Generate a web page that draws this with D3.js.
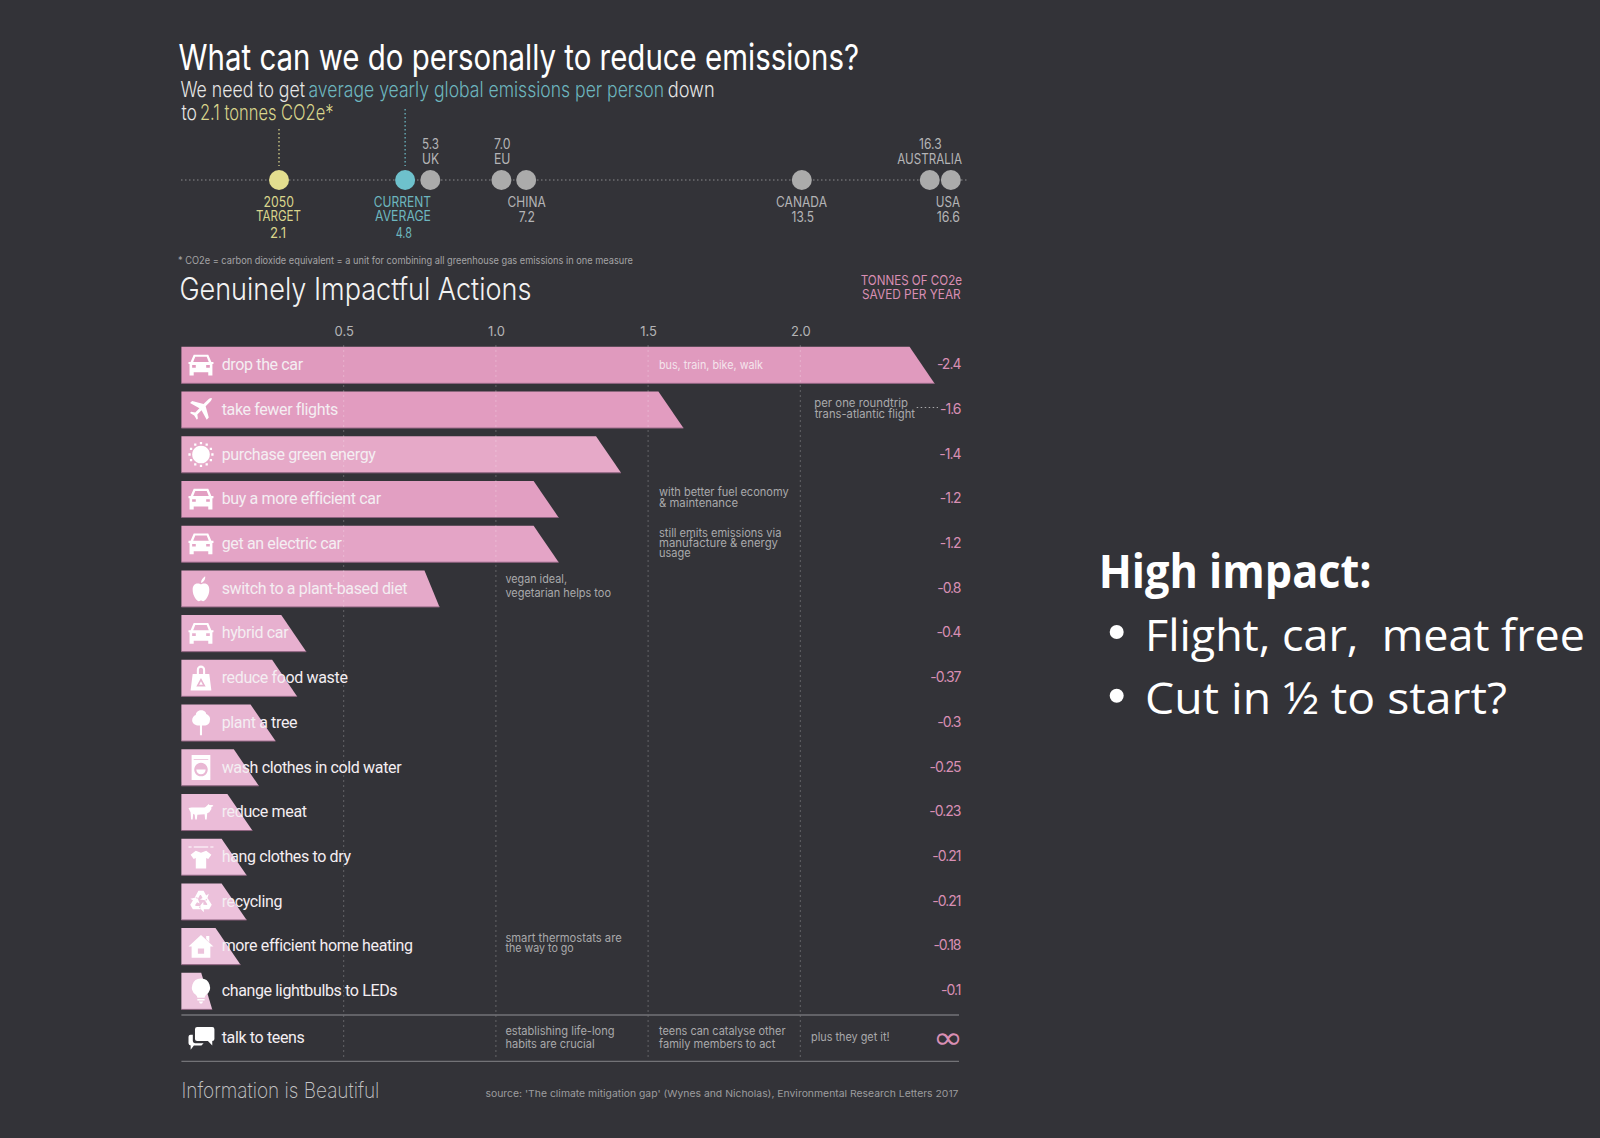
<!DOCTYPE html>
<html>
<head>
<meta charset="utf-8">
<title>What can we do personally to reduce emissions?</title>
<script src="https://cdn.jsdelivr.net/npm/d3@7"></script>
<style>
  html, body { margin: 0; background: #333338; }
  svg { display: block; }
  text { white-space: pre; }
</style>
</head>
<body>
<div id="chart"></div>
<script>
// Top strip: tonnes CO2e per person
const dotNames = ["2050 TARGET", "CURRENT AVERAGE", "UK", "EU", "CHINA", "CANADA", "AUSTRALIA", "USA"];
const dotValues = [2.1, 4.8, 5.3, 7.0, 7.2, 13.5, 16.3, 16.6];
// where the dot sits on the strip, the designer nudged some so they don't overlap
const dotPlaced = [2.1, 4.85, 5.4, 6.95, 7.49, 13.5, 16.29, 16.75];
const dotColors = ["#e3de8f", "#6ec1cc", "#ababab", "#ababab", "#ababab", "#ababab", "#ababab", "#ababab"];

// Actions
const actions = [
  "drop the car", "take fewer flights", "purchase green energy", "buy a more efficient car",
  "get an electric car", "switch to a plant-based diet", "hybrid car", "reduce food waste",
  "plant a tree", "wash clothes in cold water", "reduce meat", "hang clothes to dry",
  "recycling", "more efficient home heating", "change lightbulbs to LEDs",
];
const savedLabels = ["-2.4", "-1.6", "-1.4", "-1.2", "-1.2", "-0.8", "-0.4", "-0.37", "-0.3", "-0.25", "-0.23", "-0.21", "-0.21", "-0.18", "-0.1"];
// bar length as drawn against the axis (small bars are longer than their label says)
const barDrawn = [2.4, 1.575, 1.37, 1.165, 1.165, 0.79, 0.336, 0.306, 0.235, 0.18, 0.159, 0.14, 0.14, 0.12, 0.05];
const barColors = ["#e09abe", "#e29cc0", "#e6a9c8", "#e29fc2", "#e4a4c6", "#e5a9c9", "#e7b0cf", "#e8b3d0", "#e8b5d2", "#e9b8d4", "#ebbcd8", "#ecbfda", "#ecc1db", "#ecc3dc", "#edc6de"];
const axisTicks = [0.5, 1.0, 1.5, 2.0];
const iconNames = ["car", "plane", "sun", "car", "car", "apple", "car", "bag", "tree", "washer", "cow", "shirt", "recycle", "house", "bulb"];

const svg = d3.select("#chart").append("svg").attr("width", 1600).attr("height", 1138);

const pale = "#b4b4b6", note = "#a9a9ab", pink = "#d98fb4", yellow = "#d9d58c", teal = "#6db6bf";

// text helper, x2 squeezes the text to the width it has in the picture
function put(text, x, y, o = {}) {
  const t = svg.append("text").attr("x", x).attr("y", y).text(text)
    .attr("font-family", o.font || "Inter")
    .attr("font-size", o.size || 14)
    .attr("font-weight", o.weight || 400)
    .attr("fill", o.fill || pale);
  if (o.x2) t.attr("textLength", o.x2 - x).attr("lengthAdjust", "spacingAndGlyphs");
  if (o.spacing) t.attr("letter-spacing", o.spacing);
  if (o.anchor) t.attr("text-anchor", o.anchor);
  return t;
}

// Header
put("What can we do personally to reduce emissions?", 178.6, 69.5, { size: 36, weight: 400, fill: "#fff", x2: 859 });
put("We need to get", 180.4, 97, { size: 22, fill: "#e6e6e6", weight: 300, x2: 305 });
put("average yearly global emissions per person", 308.5, 97, { size: 22, fill: teal, weight: 300, x2: 664 });
put("down", 667.7, 97, { size: 22, fill: "#e6e6e6", weight: 300, x2: 714.6 });
put("to", 181.5, 120, { size: 22, fill: "#e6e6e6", weight: 300, x2: 197 });
put("2.1 tonnes CO2e*", 200, 120, { size: 22, fill: yellow, weight: 300, x2: 333.5 });

// Dot strip
const xDot = d3.scaleLinear().domain([2.1, 13.5]).range([279, 801.8]);
svg.append("line").attr("x1", 181).attr("x2", 967).attr("y1", 180).attr("y2", 180)
  .attr("stroke", "#8a8a8c").attr("stroke-width", 1.2).attr("stroke-dasharray", "1.5 2.5");
svg.selectAll(".leader").data([0, 1]).join("line").attr("class", "leader")
  .attr("x1", (i) => xDot(dotPlaced[i])).attr("x2", (i) => xDot(dotPlaced[i]))
  .attr("y1", (i) => (i === 0 ? 129 : 109)).attr("y2", 166)
  .attr("stroke", (i) => dotColors[i]).attr("stroke-width", 1.2).attr("stroke-dasharray", "1.5 2.5");
svg.selectAll(".dot").data(dotValues).join("circle").attr("class", "dot")
  .attr("cx", (d, i) => xDot(dotPlaced[i])).attr("cy", 180).attr("r", 10)
  .attr("fill", (d, i) => dotColors[i]);

const f1 = d3.format(".1f");
const up = { size: 14, weight: 400 };
put("2050", 263.6, 206.7, { ...up, fill: yellow, x2: 294 });
put("TARGET", 256, 220.7, { ...up, fill: yellow, x2: 301 });
put(dotValues[0], 270, 238.3, { ...up, fill: yellow, x2: 286 });
put("CURRENT", 373.8, 206.7, { ...up, fill: teal, x2: 431 });
put("AVERAGE", 375, 220.7, { ...up, fill: teal, x2: 431 });
put(dotValues[1], 395.7, 238.3, { ...up, fill: teal, x2: 412 });
put(dotValues[2], 422, 149.3, { ...up, x2: 439 });
put(dotNames[2], 422, 163.7, { ...up, x2: 439 });
put(f1(dotValues[3]), 494, 149.3, { ...up, x2: 510.5 });
put(dotNames[3], 494, 163.7, { ...up, x2: 510.5 });
put(dotNames[4], 507.5, 206.7, { ...up, x2: 545.7 });
put(dotValues[4], 518.7, 221.7, { ...up, x2: 535 });
put(dotNames[5], 776, 206.7, { ...up, x2: 827 });
put(dotValues[5], 791.6, 221.7, { ...up, x2: 814 });
put(dotValues[6], 919, 149.3, { ...up, x2: 941.6 });
put(dotNames[6], 897.3, 163.7, { ...up, x2: 962 });
put(dotNames[7], 935.7, 206.7, { ...up, x2: 960 });
put(dotValues[7], 936.7, 221.7, { ...up, x2: 960 });

put("* CO2e = carbon dioxide equivalent = a unit for combining all greenhouse gas emissions in one measure", 178, 264, { size: 10, fill: "#a4a4a6", x2: 633 });
put("Genuinely Impactful Actions", 179.4, 299.5, { size: 31, fill: "#f2f2f2", weight: 300, x2: 531.4 });
put("TONNES OF CO2e", 860.7, 284.7, { size: 13.5, fill: pink, x2: 962 });
put("SAVED PER YEAR", 862, 299.3, { size: 13.5, fill: pink, x2: 960.7 });

// Bars
const left = 181.4;
const x = d3.scaleLinear().domain([0, 2.5]).range([191.5, 952.5]);
const y = d3.scaleBand().domain(actions).range([346.8, 1009.4]).paddingInner(0.182).paddingOuter(0);

// value sits mid way along the slanted end, a couple of bars have a steeper end
const steeper = { "switch to a plant-based diet": 7.5, "change lightbulbs to LEDs": 5.5 };
const slant = (a) => steeper[a] || 12.5;
const barPath = (a, i) => {
  const v = barDrawn[i], t = y(a), b = t + y.bandwidth();
  return d3.line()([[left, t], [x(v) - slant(a), t], [x(v) + slant(a), b], [left, b]]) + "Z";
};

svg.selectAll(".bar").data(actions).join("path").attr("class", "bar")
  .attr("d", barPath).attr("fill", (a, i) => barColors[i]);
svg.selectAll(".barEdge").data(actions).join("line").attr("class", "barEdge")
  .attr("x1", left).attr("x2", (a, i) => x(barDrawn[i]) + slant(a))
  .attr("y1", (a) => y(a) + y.bandwidth()).attr("y2", (a) => y(a) + y.bandwidth())
  .attr("stroke", "#8f6480").attr("stroke-width", 1);

// Axis
const axis = svg.append("g").attr("transform", "translate(0,341)")
  .call(d3.axisTop(x).tickValues(axisTicks).tickFormat(f1).tickSize(0).tickPadding(5));
axis.select(".domain").remove();
axis.selectAll("text").attr("font-family", "Inter").attr("font-size", 13).attr("fill", pale);

svg.selectAll(".grid").data(axisTicks).join("line").attr("class", "grid")
  .attr("x1", (d) => x(d)).attr("x2", (d) => x(d)).attr("y1", 345).attr("y2", 1059)
  .attr("stroke", "#fff").attr("stroke-opacity", 0.24).attr("stroke-dasharray", "2 3");

// Icons, drawn in a 24x24 box
const rays = d3.range(12).map((i) => {
  const a = (i * Math.PI) / 6;
  const c = 12 + 11 * Math.cos(a), s = 12 + 11 * Math.sin(a);
  return `M${c - 1.1} ${s - 1.1}h2.2v2.2h-2.2z`;
}).join("");
const recycleArrow = [[-6, -4], [-2.5, -10.5], [2.5, -10.5], [5, -6], [7.5, -7.5], [5.5, -1], [-1, -2], [1.5, -3.5], [0, -6.5], [-1, -6.5], [-3, -2.5]];
const recycle = [0, 120, 240].map((deg) => {
  const r = (deg * Math.PI) / 180;
  return d3.line()(recycleArrow.map(([a, b]) => [12 + a * Math.cos(r) - b * Math.sin(r), 12 + a * Math.sin(r) + b * Math.cos(r)])) + "Z";
}).join("");
const icons = {
  car: "M5 2h14l3 7h2v2h-1v11h-4v-3H5v3H1V11H0V9h2zM6.5 4l-2 5h15l-2-5zM3.500 12v2.500h3.500V12zM17 12v2.500h3.500V12z",
  plane: "M23 1c-1.500-1-3 0-4 1l-4.500 4.500-11-3-2 2 9 5-4 4-4-.5-1 1 4 2.500 2.500 4 1-1-.5-4 4-4 5 9 2-2-3-11 4.500-4.500c1-1 2-2.500 1-3z",
  sun: "M12 3.500a8.500 8.500 0 1 0 .01 0z" + rays,
  apple: "M12 8c-2-1.500-8-2-8 5 0 6 4 11 6 11 1 0 1.500-.5 2-.5s1 .5 2 .5c2 0 6-5 6-11 0-7-6-6.500-8-5zM12 6.500c0-3 2-5 4-6.500.5 2.500-1 5.500-4 6.500z",
  bag: "M4 8h16l2 16H2zM8 8V4a4 4 0 0 1 8 0v4h-2V4a2 2 0 0 0-4 0v4zM12 12l4.500 8h-9zM12 15l-1.800 3.400h3.600z",
  tree: "M12 0c4 0 5 2.500 5 3.500 3 1 4.500 4 3.500 6.500 0 3-3 5-6.500 4.500l-1 0v9.500h-2v-9.500c-3 .5-7.500-1-7.500-5 0-3 2-4.500 3.500-5 0-2 2-4.500 5-4.500z",
  washer: "M3 0h18v24H3zM5 4.500h14v-.8H5zM12 7.500a6.500 6.500 0 1 0 .01 0zM7.500 14a4.500 4.500 0 0 0 9 0z",
  cow: "M0 8c2-1 4-.5 6-.5h8c2 0 3-1 4.500-2.500l1-1 .5 1h3l1 1-2 1v2l-2 3-2 1-.5 6h-1.500l-.5-5-7 .5-.5 4.500h-1.500l-.5-4.500-1.500-1-.5 5.500h-1.500l-.5-7-1-2z",
  shirt: "M0 2h3v1H0zM5 2h14v1H5zM21 2h3v1h-3zM7 6l5 2 5-2 5 4-3 4-2-1v10H7V13l-2 1-3-4z",
  recycle: recycle,
  house: "M12 1l12 11h-3v11H3V12H0zM17 2h3v6l-3-3zM9 14v5h6v-5z",
  bulb: "M12 0a8.500 8.500 0 0 1 5 15.500c-1 1-1.500 2-1.500 3h-7c0-1-.5-2-1.500-3A8.500 8.500 0 0 1 12 0zM8.500 19.500h7V21h-7zM10 22h4l-1 2h-2z",
  speech: "M8 1h14a2 2 0 0 1 2 2v9a2 2 0 0 1-2 2v4l-4-4H8a2 2 0 0 1-2-2V3a2 2 0 0 1 2-2zM4 8v6a2 2 0 0 0 2 2h8l-2 2H5l-3 4v-4a2 2 0 0 1-2-2v-6a2 2 0 0 1 2-2z",
};

svg.selectAll(".icon").data(actions).join("path").attr("class", "icon")
  .attr("d", (a, i) => icons[iconNames[i]])
  .attr("fill-rule", "evenodd").attr("fill", "#fff")
  .attr("transform", (a) => `translate(188.500,${y(a) + y.bandwidth() / 2 - 12.500}) scale(1.04)`);

// Action labels and saved values
svg.selectAll(".act").data(actions).join("text").attr("class", "act")
  .attr("x", 221.7).attr("y", (a) => y(a) + y.bandwidth() / 2 + 5)
  .attr("font-family", "Roboto").attr("font-size", 16).attr("letter-spacing", -0.36)
  .attr("fill", "#f4eef2").text((a) => a);
svg.selectAll(".saved").data(actions).join("text").attr("class", "saved")
  .attr("x", 960.5).attr("y", (a) => y(a) + y.bandwidth() / 2 + 4)
  .attr("text-anchor", "end").attr("font-family", "Inter").attr("font-size", 14).attr("letter-spacing", -1)
  .attr("fill", pink).text((a, i) => savedLabels[i]);

// Notes
const nt = { size: 11.5, fill: note };
put("bus, train, bike, walk", 659, 369.3, { ...nt, fill: "#f4e4ec", x2: 763 });
put("per one roundtrip", 814.3, 407.3, { ...nt, x2: 908 });
put("trans-atlantic flight", 814.7, 418, { ...nt, x2: 915 });
svg.append("line").attr("x1", 916.7).attr("x2", 938).attr("y1", 407.5).attr("y2", 407.5)
  .attr("stroke", note).attr("stroke-dasharray", "1.5 2.5");
put("with better fuel economy", 659, 496, { ...nt, x2: 788.6 });
put("& maintenance", 659, 506.7, { ...nt, x2: 738 });
put("still emits emissions via", 659, 536.7, { ...nt, x2: 781.4 });
put("manufacture & energy", 659, 547.3, { ...nt, x2: 778 });
put("usage", 659, 557.3, { ...nt, x2: 690.6 });
put("vegan ideal,", 505.4, 583.3, { ...nt, x2: 567 });
put("vegetarian helps too", 505.4, 596.7, { ...nt, x2: 611 });
put("smart thermostats are", 505.4, 942, { ...nt, x2: 621.7 });
put("the way to go", 505.4, 952, { ...nt, x2: 573.8 });

// Talk to teens row
svg.selectAll(".rule").data([1015, 1061.3]).join("line").attr("class", "rule")
  .attr("x1", left).attr("x2", 959).attr("y1", (d) => d).attr("y2", (d) => d)
  .attr("stroke", "#737377").attr("stroke-width", 1.3);
svg.append("path").attr("d", icons.speech).attr("fill", "#fff").attr("fill-rule", "evenodd")
  .attr("transform", "translate(188.500,1026) scale(1.08)");
put("talk to teens", 221.7, 1043, { font: "Roboto", size: 16, spacing: -0.36, fill: "#f4eef2" });
put("establishing life-long", 505.4, 1034.7, { ...nt, x2: 614.6 });
put("habits are crucial", 505.4, 1048, { ...nt, x2: 594.7 });
put("teens can catalyse other", 659, 1034.7, { ...nt, x2: 785.5 });
put("family members to act", 659, 1048, { ...nt, x2: 775.3 });
put("plus they get it!", 811, 1040.7, { ...nt, x2: 889.6 });
put("∞", 933, 1048, { font: "DejaVu Sans", size: 30, fill: pink, x2: 963 });

// Footer
put("Information is Beautiful", 181.4, 1098, { size: 22, weight: 200, fill: "#c4c4c6", x2: 379.4 });
put("source: 'The climate mitigation gap' (Wynes and Nicholas), Environmental Research Letters 2017", 485.5, 1096.7, { size: 9.5, fill: "#9c9c9e", x2: 958.5 });

// Slide text on the right
const slide = { font: "Open Sans", fill: "#fff" };
put("High impact:", 1098.7, 587.7, { ...slide, size: 46, weight: 700, x2: 1371.7 });
put("Flight, car,  meat free", 1145, 651, { ...slide, size: 44.5, x2: 1585 });
put("Cut in ½ to start?", 1145, 713.5, { ...slide, size: 44.5, x2: 1507 });
svg.selectAll(".bullet").data([632, 695.7]).join("circle").attr("class", "bullet")
  .attr("cx", 1116.7).attr("cy", (d) => d).attr("r", 7).attr("fill", "#fff");
</script>
</body>
</html>
